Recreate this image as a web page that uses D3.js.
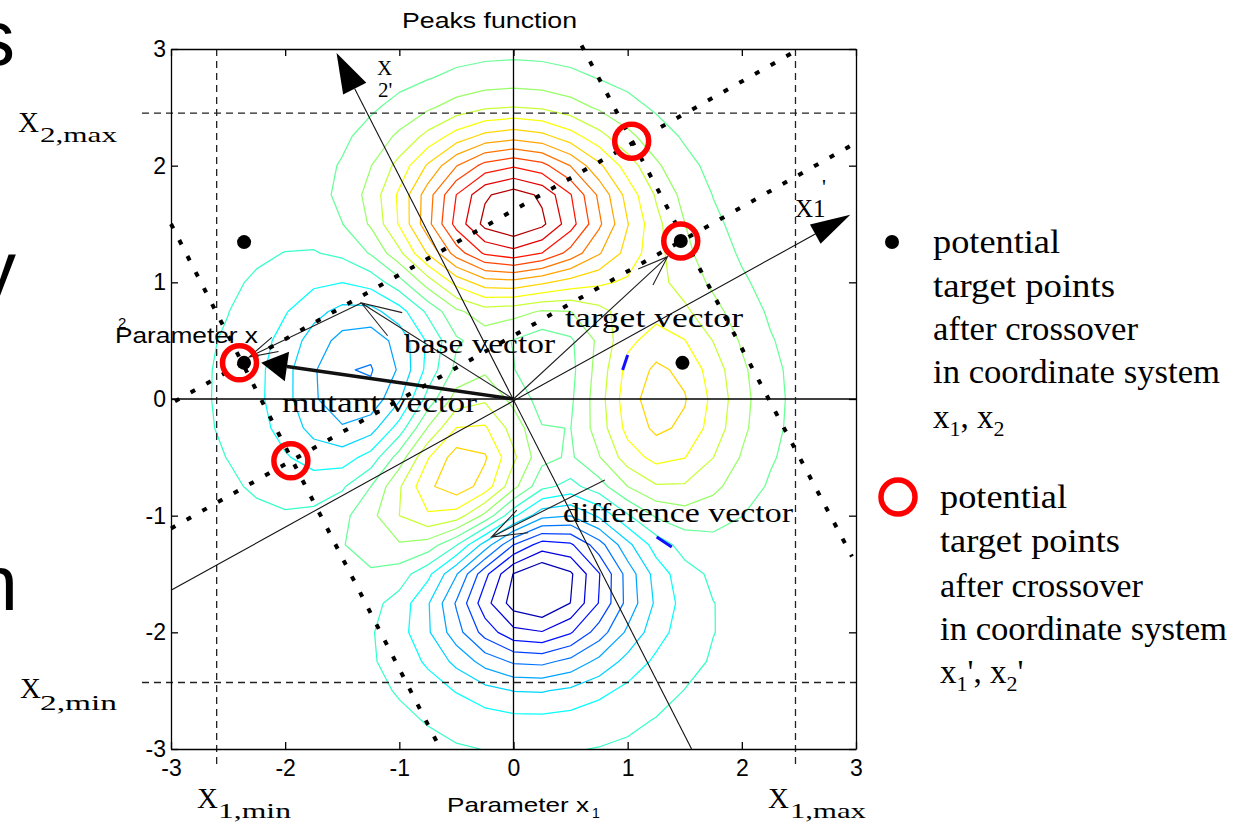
<!DOCTYPE html>
<html>
<head>
<meta charset="utf-8">
<script src="https://cdn.jsdelivr.net/npm/d3@7"></script>
<style>
  html, body { margin: 0; padding: 0; background: #fff; }
  svg { display: block; }
</style>
</head>
<body>
<svg id="chart" width="1243" height="829"></svg>
<script>
// sample grid of the peaks surface (step 0.25), rows go from x2 = -3 up to x2 = 3
const gridX = [-3, -2.75, -2.5, -2.25, -2, -1.75, -1.5, -1.25, -1, -0.75, -0.5, -0.25, 0,
  0.25, 0.5, 0.75, 1, 1.25, 1.5, 1.75, 2, 2.25, 2.5, 2.75, 3]
const gridY = [-3, -2.75, -2.5, -2.25, -2, -1.75, -1.5, -1.25, -1, -0.75, -0.5, -0.25, 0,
  0.25, 0.5, 0.75, 1, 1.25, 1.5, 1.75, 2, 2.25, 2.5, 2.75, 3]
const peaksZ = [
  [0.00, 0.00, 0.00, 0.00, 0.00, 0.01, 0.00, -0.01, -0.03, -0.08, -0.14, -0.20, -0.25, -0.25, -0.22, -0.17, -0.11, -0.06, -0.03, -0.01, 0.00, 0.00, 0.00, 0.00, 0.00],
  [0.00, 0.00, 0.00, 0.00, 0.01, 0.01, 0.00, -0.02, -0.10, -0.22, -0.39, -0.56, -0.68, -0.69, -0.61, -0.46, -0.30, -0.17, -0.08, -0.03, -0.01, 0.00, 0.00, 0.00, 0.00],
  [0.00, 0.00, 0.00, 0.01, 0.01, 0.02, 0.00, -0.07, -0.23, -0.53, -0.91, -1.31, -1.57, -1.60, -1.41, -1.06, -0.69, -0.38, -0.18, -0.08, -0.03, -0.01, 0.00, 0.00, 0.00],
  [0.00, 0.00, 0.01, 0.01, 0.03, 0.04, 0.01, -0.12, -0.44, -0.99, -1.74, -2.51, -3.02, -3.10, -2.72, -2.05, -1.32, -0.73, -0.35, -0.14, -0.05, -0.01, 0.00, 0.00, 0.00],
  [0.00, 0.00, 0.01, 0.02, 0.05, 0.07, 0.05, -0.13, -0.59, -1.45, -2.64, -3.88, -4.76, -4.93, -4.35, -3.27, -2.10, -1.15, -0.53, -0.20, -0.06, -0.01, 0.00, 0.00, 0.00],
  [0.00, 0.00, 0.01, 0.03, 0.07, 0.13, 0.15, 0.02, -0.46, -1.48, -3.00, -4.70, -5.97, -6.33, -5.64, -4.24, -2.69, -1.42, -0.61, -0.20, -0.04, 0.00, 0.01, 0.00, 0.00],
  [0.00, 0.00, 0.01, 0.03, 0.08, 0.18, 0.33, 0.39, 0.15, -0.68, -2.19, -4.08, -5.68, -6.33, -5.76, -4.32, -2.64, -1.27, -0.44, -0.07, 0.04, 0.05, 0.03, 0.01, 0.00],
  [0.00, -0.01, -0.01, -0.01, 0.03, 0.17, 0.45, 0.84, 1.11, 0.88, -0.14, -1.84, -3.60, -4.60, -4.40, -3.22, -1.74, -0.56, 0.08, 0.27, 0.23, 0.13, 0.06, 0.02, 0.01],
  [-0.01, -0.02, -0.06, -0.10, -0.13, -0.04, 0.30, 0.98, 1.86, 2.45, 2.22, 1.00, -0.72, -2.02, -2.22, -1.43, -0.27, 0.58, 0.88, 0.77, 0.50, 0.26, 0.11, 0.04, 0.01],
  [-0.02, -0.05, -0.12, -0.25, -0.42, -0.51, -0.28, 0.49, 1.78, 3.09, 3.63, 2.94, 1.40, -0.01, -0.41, 0.20, 1.18, 1.79, 1.78, 1.35, 0.82, 0.41, 0.18, 0.06, 0.02],
  [-0.03, -0.08, -0.20, -0.44, -0.80, -1.16, -1.21, -0.60, 0.80, 2.49, 3.55, 3.30, 2.00, 0.70, 0.39, 1.14, 2.20, 2.76, 2.56, 1.87, 1.12, 0.56, 0.24, 0.09, 0.03],
  [-0.03, -0.10, -0.27, -0.60, -1.14, -1.78, -2.16, -1.84, -0.57, 1.23, 2.56, 2.63, 1.58, 0.53, 0.48, 1.50, 2.76, 3.37, 3.09, 2.25, 1.34, 0.67, 0.28, 0.10, 0.03],
  [-0.04, -0.11, -0.30, -0.69, -1.33, -2.14, -2.77, -2.71, -1.65, 0.06, 1.48, 1.75, 0.98, 0.19, 0.37, 1.57, 2.94, 3.58, 3.27, 2.37, 1.41, 0.70, 0.30, 0.11, 0.03],
  [-0.04, -0.11, -0.29, -0.67, -1.32, -2.16, -2.87, -2.98, -2.15, -0.65, 0.68, 1.06, 0.52, -0.03, 0.28, 1.47, 2.76, 3.36, 3.06, 2.22, 1.32, 0.66, 0.28, 0.10, 0.03],
  [-0.03, -0.09, -0.25, -0.57, -1.12, -1.85, -2.49, -2.64, -2.00, -0.76, 0.39, 0.80, 0.46, 0.09, 0.38, 1.34, 2.38, 2.83, 2.56, 1.84, 1.09, 0.54, 0.23, 0.08, 0.03],
  [-0.02, -0.07, -0.18, -0.42, -0.82, -1.33, -1.76, -1.78, -1.16, -0.05, 1.04, 1.55, 1.42, 1.12, 1.17, 1.65, 2.17, 2.32, 1.99, 1.40, 0.82, 0.40, 0.17, 0.06, 0.02],
  [-0.01, -0.04, -0.11, -0.25, -0.48, -0.74, -0.86, -0.60, 0.23, 1.51, 2.79, 3.59, 3.69, 3.34, 2.93, 2.66, 2.43, 2.08, 1.58, 1.04, 0.58, 0.28, 0.11, 0.04, 0.01],
  [-0.01, -0.02, -0.06, -0.12, -0.20, -0.23, -0.05, 0.55, 1.69, 3.29, 4.92, 6.06, 6.39, 5.94, 5.02, 3.97, 2.97, 2.09, 1.35, 0.79, 0.41, 0.19, 0.07, 0.03, 0.01],
  [0.00, -0.01, -0.02, -0.03, -0.01, 0.11, 0.48, 1.27, 2.61, 4.37, 6.20, 7.54, 8.00, 7.48, 6.25, 4.72, 3.25, 2.05, 1.19, 0.62, 0.29, 0.12, 0.05, 0.02, 0.00],
  [0.00, 0.00, 0.00, 0.01, 0.07, 0.24, 0.65, 1.43, 2.67, 4.29, 5.96, 7.22, 7.67, 7.19, 5.99, 4.45, 2.96, 1.78, 0.96, 0.47, 0.21, 0.08, 0.03, 0.01, 0.00],
  [0.00, 0.00, 0.01, 0.02, 0.08, 0.23, 0.55, 1.16, 2.10, 3.31, 4.56, 5.51, 5.86, 5.50, 4.57, 3.37, 2.21, 1.29, 0.68, 0.32, 0.13, 0.05, 0.02, 0.00, 0.00],
  [0.00, 0.00, 0.00, 0.02, 0.06, 0.15, 0.36, 0.74, 1.32, 2.07, 2.84, 3.43, 3.65, 3.43, 2.84, 2.09, 1.36, 0.79, 0.41, 0.19, 0.08, 0.03, 0.01, 0.00, 0.00],
  [0.00, 0.00, 0.00, 0.01, 0.03, 0.08, 0.19, 0.39, 0.69, 1.07, 1.47, 1.77, 1.88, 1.77, 1.47, 1.08, 0.70, 0.40, 0.21, 0.09, 0.04, 0.01, 0.00, 0.00, 0.00],
  [0.00, 0.00, 0.00, 0.00, 0.01, 0.04, 0.08, 0.17, 0.30, 0.46, 0.64, 0.77, 0.82, 0.77, 0.64, 0.47, 0.30, 0.17, 0.09, 0.04, 0.02, 0.01, 0.00, 0.00, 0.00],
  [0.00, 0.00, 0.00, 0.00, 0.01, 0.01, 0.03, 0.06, 0.11, 0.17, 0.23, 0.28, 0.30, 0.28, 0.23, 0.17, 0.11, 0.06, 0.03, 0.01, 0.01, 0.00, 0.00, 0.00, 0.00]
]
const contourLevels = [-5.65, -4.97, -4.28, -3.60, -2.92, -2.24, -1.55, -0.87, -0.19, 0.49,
  1.18, 1.86, 2.54, 3.22, 3.91, 4.59, 5.27, 5.95, 6.64, 7.32]

const xTicks = [-3, -2, -1, 0, 1, 2, 3]
const yTicks = [-3, -2, -1, 0, 1, 2, 3]

// parameter bounds (dashed box)
const x1Bounds = [-2.6, 2.47]
const x2Bounds = [-2.43, 2.45]

// rotated coordinate system x1', x2'
const axis1Line = [[-3.0, -1.64], [2.95, 1.58]]
const axis2Line = [[1.56, -3.0], [-1.55, 2.965]]

// vectors of the DE step: [start, tip]
const mutantVec = [[0, 0], [-2.21, 0.31]]
const baseVec = [[0, 0], [-1.333, 0.823]]
const targetVec = [[0, 0], [1.35, 1.22]]
const addedDiffVec = [[-1.333, 0.823], [-2.316, 0.36]]
const diffVec = [[0.80, -0.694], [-0.193, -1.183]]

// crossover points
const pointsX = [[1.465, 1.354], [-2.36, 0.31], [-2.36, 1.345], [1.48, 0.31]]
const pointsRot = [[1.465, 1.354], [-2.40, 0.31], [1.035, 2.21], [-1.95, -0.53]]
const dottedLines = [
  [[-2.965, -0.02], [2.44, 2.965]],
  [[-3.0, -1.11], [2.97, 2.18]],
  [[-3.0, 1.50], [-0.64, -3.0]],
  [[0.596, 3.03], [2.965, -1.35]]
]
// two stray blue strokes in the picture
const blueStrokes = [
  [[0.956, 0.248], [1.0, 0.377]],
  [[1.254, -1.183], [1.386, -1.268]]
]

const SANS = '"Liberation Sans", Arial, Helvetica, sans-serif'
const SERIF = '"Liberation Serif", "Times New Roman", Times, serif'

const svg = d3.select('#chart')
svg.append('rect').attr('width', 1243).attr('height', 829).attr('fill', '#fff')

const x = d3.scaleLinear().domain([-3, 3]).range([171, 856])
const y = d3.scaleLinear().domain([-3, 3]).range([749, 49])

// contour lines, coloured with jet
const flatZ = peaksZ.flat()
const zColor = d3.scaleLinear().domain(d3.extent(flatZ)).range([0, 1])
function jet (v) {
  const t = zColor(v)
  const c = a => Math.round(255 * Math.max(0, Math.min(1, a)))
  return `rgb(${c(1.5 - Math.abs(4 * t - 3))},${c(1.5 - Math.abs(4 * t - 2))},${c(1.5 - Math.abs(4 * t - 1))})`
}
const step = gridX[1] - gridX[0]
const gridPath = d3.geoPath(d3.geoTransform({
  point: function (px, py) {
    this.stream.point(x(gridX[0] + (px - 0.5) * step), y(gridY[0] + (py - 0.5) * step))
  }
}))
const contours = d3.contours()
  .size([gridX.length, gridY.length])
  .thresholds(contourLevels)(flatZ)

svg.append('clipPath').attr('id', 'plotClip')
  .append('rect')
  .attr('x', x(-3)).attr('y', y(3))
  .attr('width', x(3) - x(-3)).attr('height', y(-3) - y(3))

svg.append('g').attr('clip-path', 'url(#plotClip)')
  .selectAll('path')
  .data(contours)
  .join('path')
  .attr('d', gridPath)
  .attr('fill', 'none')
  .attr('stroke', d => jet(d.value))
  .attr('stroke-width', 1.25)
  .attr('stroke-linejoin', 'round')

svg.append('g').selectAll('line')
  .data(blueStrokes)
  .join('line')
  .attr('x1', d => x(d[0][0])).attr('y1', d => y(d[0][1]))
  .attr('x2', d => x(d[1][0])).attr('y2', d => y(d[1][1]))
  .attr('stroke', '#1010ff').attr('stroke-width', 3)

// cross through the origin
svg.append('line').attr('x1', x(-3)).attr('x2', x(3)).attr('y1', y(0)).attr('y2', y(0))
  .attr('stroke', '#000').attr('stroke-width', 1.3)
svg.append('line').attr('x1', x(0)).attr('x2', x(0)).attr('y1', y(-3)).attr('y2', y(3))
  .attr('stroke', '#000').attr('stroke-width', 1.3)

// dashed bounds
const dash = svg.append('g').attr('stroke', '#222').attr('stroke-width', 1.3).attr('stroke-dasharray', '7,5')
x1Bounds.forEach(v => {
  dash.append('line').attr('x1', x(v)).attr('x2', x(v)).attr('y1', y(3)).attr('y2', y(-3) + 16)
})
x2Bounds.forEach(v => {
  dash.append('line').attr('x1', x(-3) - 29).attr('x2', x(3)).attr('y1', y(v)).attr('y2', y(v))
})

// axes with inward ticks on all four sides
const tickText = d => String(d)
function styleAxis (g) {
  g.attr('font-size', 23).attr('font-family', SANS)
  g.selectAll('path, line').attr('stroke', '#000').attr('stroke-width', 1.3)
  g.selectAll('text').attr('fill', '#000')
}
svg.append('g').attr('transform', `translate(0,${y(-3)})`)
  .call(d3.axisBottom(x).tickValues(xTicks).tickFormat(tickText).tickSize(-7).tickSizeOuter(0).tickPadding(11))
  .call(styleAxis)
svg.append('g').attr('transform', `translate(${x(-3)},0)`)
  .call(d3.axisLeft(y).tickValues(yTicks).tickFormat(tickText).tickSize(-7).tickSizeOuter(0).tickPadding(5))
  .call(styleAxis)
svg.append('g').attr('transform', `translate(0,${y(3)})`)
  .call(d3.axisTop(x).tickValues(xTicks).tickSize(-7).tickSizeOuter(0).tickFormat(() => ''))
  .call(styleAxis)
svg.append('g').attr('transform', `translate(${x(3)},0)`)
  .call(d3.axisRight(y).tickValues(yTicks).tickSize(-7).tickSizeOuter(0).tickFormat(() => ''))
  .call(styleAxis)

// arrows
function px (p) { return [x(p[0]), y(p[1])] }
function solidArrow (seg, len, half, width) {
  const [x0, y0] = px(seg[0])
  const [x1, y1] = px(seg[1])
  const a = Math.atan2(y0 - y1, x0 - x1)
  const bx = x1 + len * Math.cos(a)
  const by = y1 + len * Math.sin(a)
  svg.append('line').attr('x1', x0).attr('y1', y0).attr('x2', bx).attr('y2', by)
    .attr('stroke', '#111').attr('stroke-width', width)
  const pts = [[x1, y1],
    [bx - half * Math.sin(a), by + half * Math.cos(a)],
    [bx + half * Math.sin(a), by - half * Math.cos(a)]]
  svg.append('polygon').attr('points', pts.map(p => p.join(',')).join(' ')).attr('fill', '#000')
}
function openArrow (seg, len, spread, width) {
  const [x0, y0] = px(seg[0])
  const [x1, y1] = px(seg[1])
  const a = Math.atan2(y0 - y1, x0 - x1)
  const s = spread * Math.PI / 180
  const path = d3.path()
  path.moveTo(x0, y0)
  path.lineTo(x1, y1)
  path.moveTo(x1 + len * Math.cos(a + s), y1 + len * Math.sin(a + s))
  path.lineTo(x1, y1)
  path.lineTo(x1 + len * Math.cos(a - s), y1 + len * Math.sin(a - s))
  svg.append('path').attr('d', path.toString()).attr('fill', 'none')
    .attr('stroke', '#222').attr('stroke-width', width)
}

solidArrow(axis1Line, 40, 11, 1.1)
solidArrow(axis2Line, 40, 13, 1.1)
openArrow(baseVec, 42, 19, 1.1)
openArrow(targetVec, 32, 20, 1.1)
openArrow(addedDiffVec, 30, 15, 1.1)
openArrow(diffVec, 37, 20, 1.1)
solidArrow(mutantVec, 26, 15, 3.5)

// dotted construction lines
svg.append('g').selectAll('line')
  .data(dottedLines)
  .join('line')
  .attr('x1', d => x(d[0][0])).attr('y1', d => y(d[0][1]))
  .attr('x2', d => x(d[1][0])).attr('y2', d => y(d[1][1]))
  .attr('stroke', '#000').attr('stroke-width', 4)
  .attr('stroke-dasharray', '5,13')

// points
svg.append('g').selectAll('circle')
  .data(pointsX)
  .join('circle')
  .attr('cx', d => x(d[0])).attr('cy', d => y(d[1]))
  .attr('r', 7).attr('fill', '#000')
svg.append('g').selectAll('circle')
  .data(pointsRot)
  .join('circle')
  .attr('cx', d => x(d[0])).attr('cy', d => y(d[1]))
  .attr('r', 17).attr('fill', 'none')
  .attr('stroke', '#f00').attr('stroke-width', 5.5)

// texts
function label (txt, xPos, yPos, size, family, len) {
  const t = svg.append('text').attr('x', xPos).attr('y', yPos)
    .attr('font-size', size).attr('font-family', family).attr('fill', '#000')
    .text(txt)
  if (len) t.attr('textLength', len).attr('lengthAdjust', 'spacingAndGlyphs')
  return t
}

label('Peaks function', 402, 28, 22, SANS, 175)
label('Parameter x', 447, 812, 21, SANS, 142)
label('1', 592, 818, 14, SANS)
label('Parameter x', 115, 343, 22, SANS, 143)
label('2', 118, 328, 15, SANS)

// bound names
label('X', 18, 132, 29, SERIF)
label('2,max', 40, 142, 22, SERIF, 77)
label('X', 20, 698, 29, SERIF)
label('2,min', 40, 710, 22, SERIF, 77)
label('X', 197, 808, 29, SERIF)
label('1,min', 218, 818, 22, SERIF, 73)
label('X', 768, 808, 29, SERIF)
label('1,max', 790, 818, 22, SERIF, 76)

// rotated axes names
label('X', 377, 75, 21, SERIF)
label('2\'', 378, 97, 21, SERIF)
label('X1', 795, 217, 25, SERIF)
label('\'', 822, 194, 22, SERIF)

// vector names
label('base vector', 404, 353, 28, SERIF, 151)
label('target vector', 565, 327, 28, SERIF, 178)
label('mutant vector', 282, 412, 28, SERIF, 195)
label('difference vector', 563, 522, 28, SERIF, 230)

// legend
svg.append('circle').attr('cx', 892).attr('cy', 242).attr('r', 7).attr('fill', '#000')
svg.append('circle').attr('cx', 898).attr('cy', 497).attr('r', 17)
  .attr('fill', 'none').attr('stroke', '#f00').attr('stroke-width', 5.5)

const legendLines = ['potential', 'target points', 'after crossover', 'in coordinate system']
const legendLen1 = [127, 182, 205, 287]
const legendLen2 = [127, 180, 203, 287]
const legendY1 = [253, 297, 340, 383]
const legendY2 = [508, 552, 597, 640]
legendLines.forEach((s, i) => {
  label(s, 933, legendY1[i], 33, SERIF, legendLen1[i])
  label(s, 940, legendY2[i], 33, SERIF, legendLen2[i])
})
function subLabel (xPos, yPos, prime) {
  const t = svg.append('text').attr('x', xPos).attr('y', yPos)
    .attr('font-size', 33).attr('font-family', SERIF).attr('fill', '#000')
  t.append('tspan').text('x')
  t.append('tspan').attr('font-size', 22).attr('dy', 8).text('1')
  t.append('tspan').attr('dy', -8).text(prime + ', x')
  t.append('tspan').attr('font-size', 22).attr('dy', 8).text('2')
  if (prime) t.append('tspan').attr('dy', -8).text(prime)
}
subLabel(933, 428, '')
subLabel(940, 683, '\'')

// cut-off slide text on the left edge
label('s', 15, 65, 78, SANS).attr('text-anchor', 'end')
label('y', 16, 296, 78, SANS).attr('text-anchor', 'end')
label('n', 18, 610, 78, SANS).attr('text-anchor', 'end')
</script>
</body>
</html>
